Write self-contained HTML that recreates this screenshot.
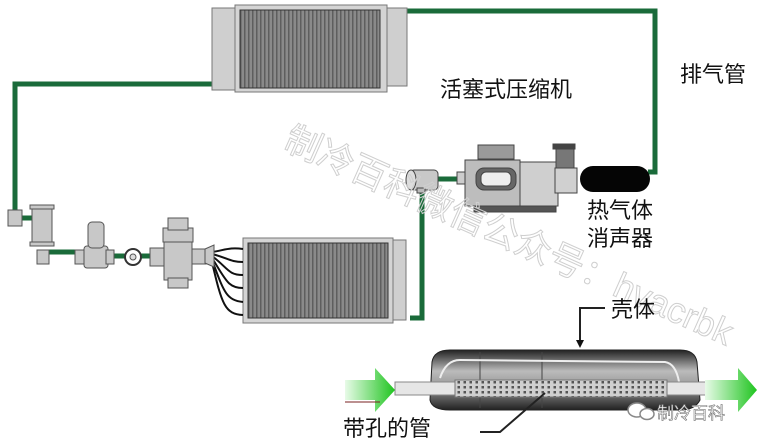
<!DOCTYPE html>
<html><head><meta charset="utf-8"><style>
html,body{margin:0;padding:0;background:#fff;width:759px;height:445px;overflow:hidden}
svg{display:block}
text{font-family:"Liberation Sans","Noto Sans CJK SC",sans-serif}
</style></head><body>
<svg width="759" height="445" viewBox="0 0 759 445" xmlns="http://www.w3.org/2000/svg">
<defs>
<pattern id="fins" width="4" height="10" patternUnits="userSpaceOnUse">
<rect width="4" height="10" fill="#8a8a8a"/><rect width="1.5" height="10" fill="#5e5e5e"/>
</pattern>
<pattern id="holes" width="6" height="5" patternUnits="userSpaceOnUse">
<rect width="6" height="5" fill="#cfcfcf"/><rect x="1.5" y="1" width="2.5" height="2.5" fill="#555"/>
</pattern>
<linearGradient id="ga" x1="0" x2="1"><stop offset="0" stop-color="#e8fbe8"/><stop offset="1" stop-color="#1fc41f"/></linearGradient>
<linearGradient id="shell" x1="0" y1="0" x2="0" y2="1"><stop offset="0" stop-color="#222"/><stop offset="0.35" stop-color="#bbb"/><stop offset="0.6" stop-color="#999"/><stop offset="1" stop-color="#222"/></linearGradient>
</defs>
<g fill="none" stroke="#1a6b3a" stroke-width="5">
<polyline points="405,11 655,11 655,172 648,172"/>
<polyline points="213,84 15,84 15,212"/>
<polyline points="422,180 422,318 410,318"/>
<line x1="48" y1="252" x2="78" y2="252"/>
<line x1="110" y1="256" x2="125" y2="256"/>
<line x1="140" y1="256" x2="158" y2="256"/>
<line x1="438" y1="179" x2="465" y2="179"/>
<line x1="20" y1="218" x2="32" y2="218"/>
</g>
<g stroke="#777" stroke-width="1">
<rect x="212" y="8" width="26" height="82" fill="#cfcfcf"/>
<rect x="383" y="8" width="24" height="78" fill="#cfcfcf"/>
<rect x="235" y="5" width="152" height="87" fill="#d4d4d4"/>
<rect x="240" y="10" width="140" height="78" fill="url(#fins)" stroke="#333"/>
</g>
<g stroke="#777" stroke-width="1">
<rect x="393" y="240" width="13" height="80" fill="#cfcfcf"/>
<rect x="243" y="238" width="150" height="85" fill="#d4d4d4"/>
<rect x="248" y="243" width="140" height="75" fill="url(#fins)" stroke="#333"/>
</g>
<g fill="none" stroke="#111" stroke-width="2">
<path d="M212,252 C225,250 230,247 243,249"/>
<path d="M212,254 C228,258 230,262 243,262"/>
<path d="M212,256 C228,268 228,275 243,275"/>
<path d="M212,258 C226,280 228,288 243,288"/>
<path d="M212,260 C224,292 226,300 243,302"/>
<path d="M212,262 C222,305 225,314 243,315"/>
</g>
<g fill="#c8c8c8" stroke="#555" stroke-width="1">
<rect x="8" y="210" width="14" height="16"/>
<rect x="32" y="207" width="20" height="38"/>
<rect x="30" y="205" width="24" height="4"/>
<rect x="30" y="242" width="24" height="4"/>
<rect x="37" y="250" width="12" height="14"/>
<rect x="75" y="250" width="10" height="14"/>
<rect x="84" y="246" width="24" height="22" rx="3"/>
<rect x="88" y="222" width="16" height="26" rx="4"/>
<rect x="106" y="250" width="8" height="14"/>
<circle cx="133" cy="257" r="8" fill="#fff" stroke="#333" stroke-width="2"/>
<circle cx="133" cy="257" r="3" fill="#ddd"/>
<rect x="150" y="248" width="14" height="18"/>
<rect x="164" y="240" width="28" height="40"/>
<rect x="168" y="278" width="20" height="10"/>
<rect x="163" y="228" width="30" height="14"/>
<rect x="168" y="218" width="20" height="12"/>
<rect x="192" y="249" width="14" height="15"/>
<path d="M205,249 L214,245 L214,267 L205,263 Z"/>
</g>
<g stroke="#444" stroke-width="1">
<rect x="478" y="145" width="36" height="14" fill="#9a9a9a"/>
<rect x="474" y="200" width="82" height="12" fill="#555"/>
<rect x="465" y="160" width="55" height="46" fill="#bdbdbd"/>
<rect x="520" y="162" width="38" height="44" fill="#cfcfcf"/>
<rect x="555" y="168" width="22" height="25" fill="#d0d0d0"/>
<rect x="556" y="146" width="18" height="22" fill="#777"/>
<rect x="553" y="144" width="22" height="5" fill="#444"/>
<rect x="476" y="168" width="40" height="22" rx="8" fill="#666"/>
<rect x="481" y="172" width="30" height="14" rx="5" fill="#eee"/>
<rect x="457" y="172" width="8" height="12" fill="#ccc"/>
<rect x="410" y="170" width="28" height="20" rx="4" fill="#c8c8c8"/>
<ellipse cx="411" cy="180" rx="5" ry="10" fill="#ddd"/>
<rect x="417" y="188" width="8" height="5" fill="#bbb"/>
</g>
<rect x="580" y="166" width="70" height="26" rx="13" fill="#050505"/>
<text x="0" y="0" transform="translate(282,148) rotate(24)" font-size="36" fill="none" stroke="#cfcfcf" stroke-width="1" font-family="'Liberation Serif','Noto Serif CJK SC',serif">制冷百科微信公众号：hvacrbk</text>
<g font-size="22" fill="#111">
<text x="680" y="82">排气管</text>
<text x="440" y="97">活塞式压缩机</text>
<text x="587" y="218">热气体</text>
<text x="587" y="246">消声器</text>
<text x="611" y="317">壳体</text>
<text x="343" y="436">带孔的管</text>
</g>
<path d="M430,400 L432,362 Q434,350 450,350 L680,350 Q695,350 697,362 L700,400 Q695,410 680,410 L450,410 Q432,410 430,400Z" fill="url(#shell)" stroke="#222"/>
<line x1="480" y1="352" x2="480" y2="408" stroke="#444"/>
<line x1="542" y1="352" x2="542" y2="408" stroke="#444"/>
<path d="M440,378 Q446,360 460,360 L665,362 Q678,364 680,390" fill="none" stroke="#eee" stroke-width="2"/>
<rect x="395" y="382" width="320" height="13" fill="#e6e6e6" stroke="#888"/>
<rect x="455" y="380" width="212" height="17" fill="url(#holes)" stroke="#777"/>
<path d="M345,380 L375,380 L375,368 L395,390 L375,412 L375,400 L345,400 Z" fill="url(#ga)"/>
<path d="M705,380 L738,380 L738,368 L757,390 L738,412 L738,400 L705,400 Z" fill="url(#ga)"/>
<g fill="none" stroke="#222" stroke-width="2">
<polyline points="605,308 580,308 580,342"/>
<polyline points="480,432 500,432 545,393"/>
</g>
<polygon points="576,340 584,340 580,348" fill="#111"/>
<line x1="345" y1="402" x2="380" y2="402" stroke="#7a2020" stroke-width="1"/>
<g fill="#fff" stroke="#888" stroke-width="1.5">
<ellipse cx="637" cy="410" rx="9" ry="7"/>
<ellipse cx="647" cy="414" rx="7" ry="5.5"/>
</g>
<text x="657" y="419" font-size="17" fill="#fff" stroke="#777" stroke-width="0.6">制冷百科</text>
</svg>
</body></html>
